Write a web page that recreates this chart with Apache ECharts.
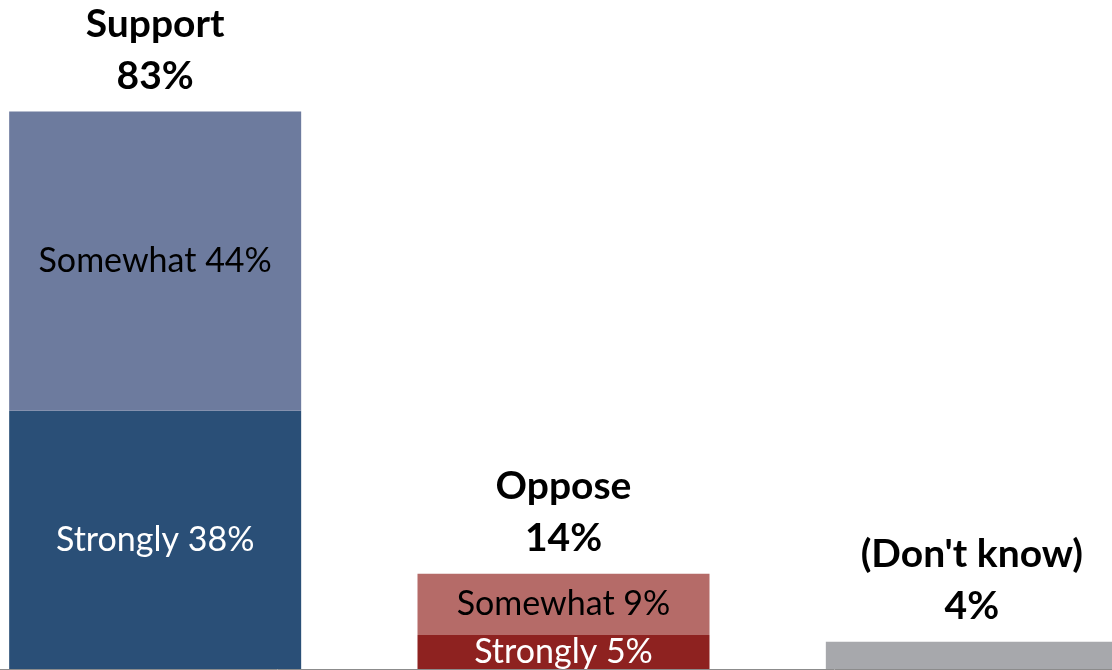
<!DOCTYPE html>
<html>
<head>
<meta charset="utf-8">
<script src="https://cdn.jsdelivr.net/npm/echarts@6/dist/echarts.min.js"></script>
<style>
  html, body { margin: 0; padding: 0; background: #ffffff; }
  #chart { width: 1112px; height: 670px; }
</style>
</head>
<body>
<div id="chart"></div>
<script>
// Response groups and their stacked segments (percent)
const categories = ['Support', 'Oppose', "(Don't know)"];
const strongly = [38, 5, null];
const somewhat = [44, 9, null];
const dontKnow = [null, null, 4];
const totals = [83, 14, 4];

const FONT = 'Lato';
const stronglyColors = ['#2a4f77', '#8e2220'];
const somewhatColors = ['#6d7b9e', '#b56b68'];

const chart = echarts.init(document.getElementById('chart'), null, { renderer: 'canvas' });

function segItems(values, colors) {
  return values.map((v, i) => v == null ? null : { value: v, itemStyle: { color: colors[i] } });
}

const option = {
  animation: false,
  backgroundColor: '#ffffff',
  // the plot area runs past both edges so the last bar is cut by the right border
  grid: { left: -49, width: 1225, top: 0, bottom: 1, outerBoundsMode: 'none', containLabel: false },
  xAxis: {
    type: 'category',
    data: categories,
    axisLine: { show: true, lineStyle: { color: '#8c8c8c', width: 1 } },
    axisTick: { show: false },
    axisLabel: { show: false },
    splitLine: { show: false }
  },
  yAxis: {
    type: 'value',
    min: 0,
    max: 98.4,
    show: false,
    splitLine: { show: false }
  },
  series: [
    {
      name: 'Strongly',
      type: 'bar',
      stack: 'total',
      barWidth: 292,
      data: segItems(strongly, stronglyColors),
      label: {
        show: true,
        position: 'inside',
        color: '#ffffff',
        fontFamily: FONT,
        fontSize: 34,
        formatter: p => 'Strongly ' + p.value + '%'
      }
    },
    {
      name: 'Somewhat',
      type: 'bar',
      stack: 'total',
      barWidth: 292,
      data: segItems(somewhat, somewhatColors),
      label: {
        show: true,
        position: 'inside',
        color: '#000000',
        fontFamily: FONT,
        fontSize: 34,
        formatter: p => 'Somewhat ' + p.value + '%'
      }
    },
    {
      name: "Don't know",
      type: 'bar',
      stack: 'total',
      barWidth: 292,
      itemStyle: { color: '#a7a8ac' },
      data: dontKnow
    },
    {
      // zero-height cap carrying each group's total above its stack
      name: 'Total',
      type: 'bar',
      stack: 'total',
      barWidth: 292,
      itemStyle: { color: 'transparent' },
      data: categories.map(() => 0),
      label: {
        show: true,
        position: 'top',
        distance: 9,
        color: '#000000',
        fontFamily: FONT,
        fontWeight: 'bold',
        fontSize: 39,
        lineHeight: 52,
        align: 'center',
        formatter: p => categories[p.dataIndex] + '\n' + totals[p.dataIndex] + '%'
      }
    }
  ]
};

chart.setOption(option);
</script>
</body>
</html>
